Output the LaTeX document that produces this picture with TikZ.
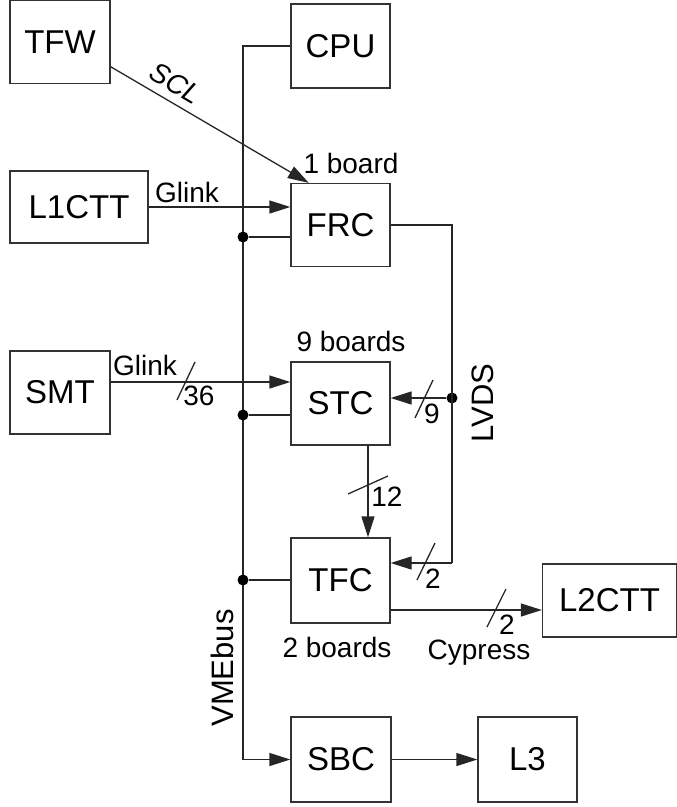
\documentclass[tikz,border=0pt]{standalone}
\usepackage{fontspec}
\setmainfont{Liberation Sans}
\usetikzlibrary{arrows.meta}
\tikzset{
  box/.style={draw=black!80, line width=1.3pt, inner sep=0pt, font=\fontsize{33}{36}\selectfont},
  lbl/.style={font=\fontsize{28}{30}\selectfont, inner sep=0pt},
  rlbl/.style={font=\fontsize{31}{33}\selectfont, inner sep=0pt, rotate=90},
  wire/.style={draw=black!85, line width=1.3pt},
  arr/.style={wire, -{Triangle[length=21pt,width=13pt]}},
  dot/.style={circle, fill=black, inner sep=0pt, minimum size=11pt},
  slash/.style={draw=black!85, line width=1.3pt}
}
\begin{document}
\begin{tikzpicture}[x=1pt,y=-1pt]
\useasboundingbox (0,0) rectangle (677,807);
% boxes
\node[box, minimum width=100, minimum height=83] (tfw) at (60,42) {TFW};
\node[box, minimum width=99, minimum height=84] (cpu) at (340.5,46) {CPU};
\node[box, minimum width=138, minimum height=72] (l1ctt) at (79,207) {L1CTT};
\node[box, minimum width=99, minimum height=83] (frc) at (340.5,225) {FRC};
\node[box, minimum width=100, minimum height=83] (smt) at (60,392.5) {SMT};
\node[box, minimum width=99, minimum height=83] (stc) at (340.5,403.5) {STC};
\node[box, minimum width=99, minimum height=85] (tfc) at (340.5,580.5) {TFC};
\node[box, minimum width=134, minimum height=73] (l2ctt) at (609.5,600.5) {L2CTT};
\node[box, minimum width=100, minimum height=85] (sbc) at (341,759.5) {SBC};
\node[box, minimum width=99, minimum height=85] (l3) at (527.5,759.5) {L3};

% VME bus
\coordinate (bus) at (243,0);
\draw[arr] (cpu.west) -- (cpu.west -| bus) -- (sbc.west -| bus) -- (sbc.west);
\node[dot] (d1) at (243,237) {};
\node[dot] (d2) at (243,415) {};
\node[dot] (d3) at (243,580) {};
\draw[wire] (d1) -- (frc.west |- d1);
\draw[wire] (d2) -- (stc.west |- d2);
\draw[wire] (d3) -- (tfc.west |- d3);
\node[rlbl] (vme) at (222,668) {VMEbus};

% SBC -> L3
\draw[arr] (sbc.east) -- (l3.west);

% TFW -> FRC (SCL)
\draw[arr] (tfw.-26) -- node[pos=0.28, sloped, above, inner sep=8pt, font=\fontsize{28}{30}\selectfont\itshape] (scl) {SCL} (frc.127);
\node[lbl, anchor=base] (oneb) at (351,173) {1 board};

% L1CTT -> FRC (Glink)
\draw[arr] (l1ctt.east) -- (frc.west |- l1ctt.east);
\node[lbl, anchor=base west] (gl1) at (155,202) {Glink};

% SMT -> STC (Glink /36)
\coordinate (smtout) at (110,382);
\draw[arr] (smtout) -- (stc.west |- smtout);
\node[lbl, anchor=base west] (gl2) at (113,375) {Glink};
\draw[slash] (177,400) -- (195,362);
\node[lbl] (n36) at (199,396) {36};
\node[lbl, anchor=base] (nineb) at (351,351) {9 boards};

% LVDS
\coordinate (lvtop) at (452,225);
\coordinate (lvbot) at (452,563);
\node[dot] (d4) at (452,398) {};
\draw[wire] (frc.east |- lvtop) -- (lvtop) -- (lvbot);
\draw[arr] (lvbot) -- (tfc.east |- lvbot);
\draw[arr] (d4) -- (stc.east |- d4);
\node[rlbl] (lvds) at (483,403) {LVDS};
\draw[slash] (415,418) -- (433,380);
\node[lbl] (n9) at (432,414) {9};
\draw[slash] (417,580) -- (435,543);
\node[lbl] (n2a) at (433,579) {2};

% STC -> TFC /12
\coordinate (stcout) at (368,445);
\draw[arr] (stcout) -- (stcout |- tfc.north);
\draw[slash] (348,494) -- (388,476);
\node[lbl] (n12) at (387,497) {12};

% TFC -> L2CTT
\coordinate (tfcout) at (390,610);
\draw[arr] (tfcout) -- (l2ctt.west |- tfcout);
\draw[slash] (487,627) -- (506,589);
\node[lbl] (n2b) at (507,625) {2};
\node[lbl, anchor=base] (twob) at (337,657) {2 boards};
\node[lbl, anchor=base] (cyp) at (479,659) {Cypress};
\end{tikzpicture}
\end{document}
